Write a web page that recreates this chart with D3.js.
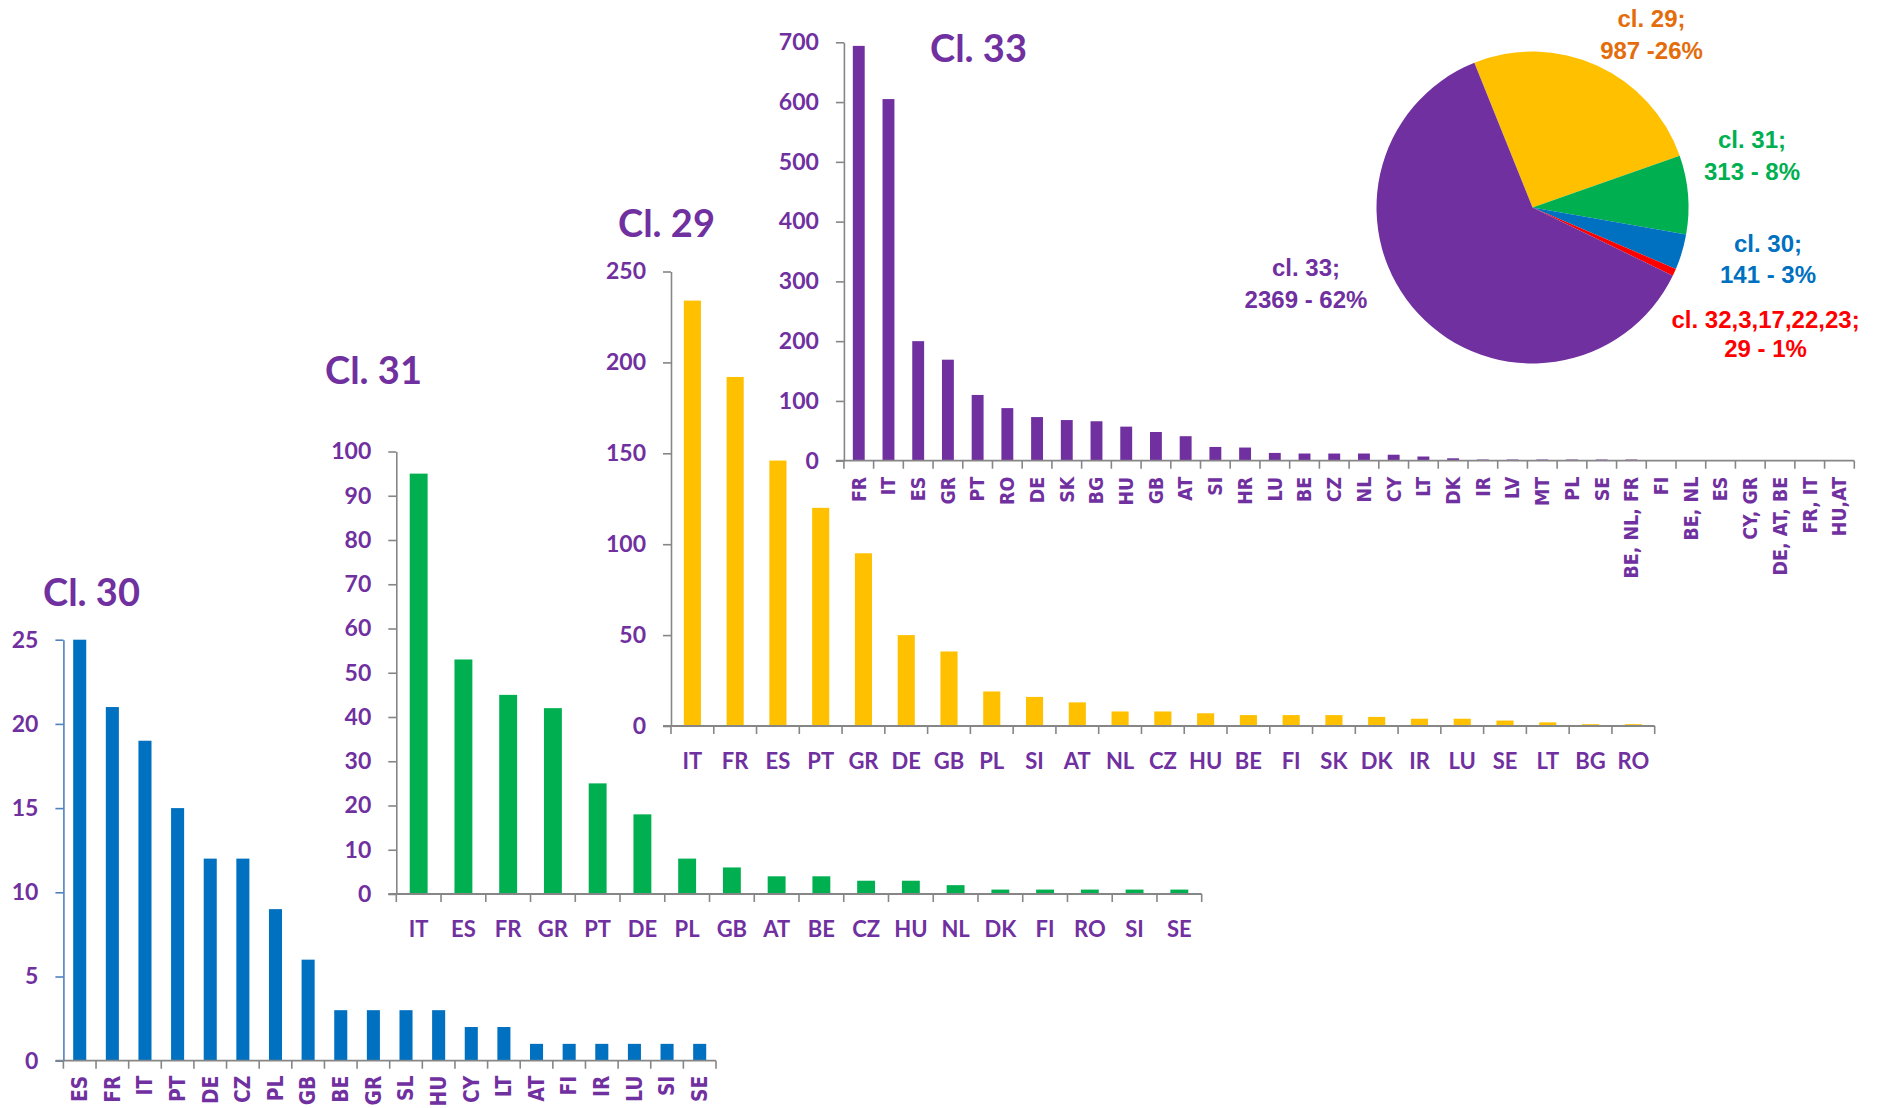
<!DOCTYPE html>
<html>
<head>
<meta charset="utf-8">
<script src="https://cdn.jsdelivr.net/npm/d3@7"></script>
<style>
  html, body { margin: 0; padding: 0; background: #ffffff; }
  svg { display: block; }
</style>
</head>
<body>
<svg id="chart" width="1877" height="1108"></svg>
<script>
// ---------------- DATA ----------------
const cl30Categories = ["ES","FR","IT","PT","DE","CZ","PL","GB","BE","GR","SL","HU","CY","LT","AT","FI","IR","LU","SI","SE"];
const cl30Values     = [25,21,19,15,12,12,9,6,3,3,3,3,2,2,1,1,1,1,1,1];
const cl30Ticks      = [0,5,10,15,20,25];

const cl31Categories = ["IT","ES","FR","GR","PT","DE","PL","GB","AT","BE","CZ","HU","NL","DK","FI","RO","SI","SE"];
const cl31Values     = [95,53,45,42,25,18,8,6,4,4,3,3,2,1,1,1,1,1];
const cl31Ticks      = [0,10,20,30,40,50,60,70,80,90,100];

const cl29Categories = ["IT","FR","ES","PT","GR","DE","GB","PL","SI","AT","NL","CZ","HU","BE","FI","SK","DK","IR","LU","SE","LT","BG","RO"];
const cl29Values     = [234,192,146,120,95,50,41,19,16,13,8,8,7,6,6,6,5,4,4,3,2,1,1];
const cl29Ticks      = [0,50,100,150,200,250];

const cl33Categories = ["FR","IT","ES","GR","PT","RO","DE","SK","BG","HU","GB","AT","SI","HR","LU","BE","CZ","NL","CY","LT","DK","IR","LV","MT","PL","SE","BE, NL, FR","FI","BE, NL","ES","CY, GR","DE, AT, BE","FR, IT","HU,AT"];
const cl33Values     = [694,605,200,169,110,88,73,68,66,57,48,41,23,22,13,12,12,12,10,7,4,2,2,2,2,2,2,0,0,0,0,0,0,0];
const cl33Ticks      = [0,100,200,300,400,500,600,700];

const pieNames   = ["cl. 29;","cl. 31;","cl. 30;","cl. 32,3,17,22,23;","cl. 33;"];
const pieValues  = [987,313,141,29,2369];
const pieShares  = ["987 -26%","313 - 8%","141 - 3%","29 - 1%","2369 - 62%"];

// ---------------- STYLE ----------------
const PURPLE = "#7030A0", YELLOW = "#FFC000", GREEN = "#00B050", BLUE = "#0070C0", RED = "#FF0000", ORANGE = "#E46C0A";
const AXIS_GRAY = "#868686";
const FONT = "Lato, 'Open Sans', sans-serif";
const VFONT = "'DejaVu Sans', Verdana, sans-serif";
const PFONT = "'Liberation Sans', Arial, sans-serif";

const svg = d3.select("#chart");
svg.append("rect").attr("width",1877).attr("height",1108).attr("fill","#ffffff");

function barChart(cfg) {
  const g = svg.append("g");
  const x = d3.scaleBand().domain(cfg.categories.map((c,i)=>i))
    .range([cfg.x0, cfg.x1]).paddingInner(0.6).paddingOuter(0.3);
  const y = d3.scaleLinear().domain([0, d3.max(cfg.ticks)]).range([cfg.y0, cfg.yTop]);
  const step = x.step();

  // bars
  g.selectAll("rect.bar").data(cfg.values).join("rect")
    .attr("class","bar")
    .attr("x",(d,i)=>x(i))
    .attr("width",x.bandwidth())
    .attr("y",d=>y(d))
    .attr("height",d=>y(0)-y(d))
    .attr("fill",cfg.color);

  // y axis
  const ya = g.append("g").attr("transform",`translate(${cfg.x0},0)`)
    .call(d3.axisLeft(y).tickValues(cfg.ticks).tickSize(8).tickSizeOuter(0).tickPadding(17).tickFormat(d3.format("d")));
  ya.select(".domain").attr("stroke",cfg.yAxisColor || AXIS_GRAY).attr("stroke-width",1.6);
  ya.selectAll(".tick line").attr("stroke",cfg.yAxisColor || AXIS_GRAY).attr("stroke-width",1.6);
  ya.selectAll(".tick text").attr("fill",PURPLE).attr("font-family",FONT)
    .attr("font-weight","bold").attr("font-size",23);

  // x axis line + boundary ticks
  g.append("line").attr("x1",cfg.x0-8).attr("x2",cfg.x1).attr("y1",cfg.y0).attr("y2",cfg.y0)
    .attr("stroke",AXIS_GRAY).attr("stroke-width",1.8);
  g.selectAll("line.xt").data(d3.range(cfg.categories.length+1)).join("line")
    .attr("class","xt")
    .attr("x1",i=>cfg.x0+i*step).attr("x2",i=>cfg.x0+i*step)
    .attr("y1",cfg.y0).attr("y2",cfg.y0+8)
    .attr("stroke",AXIS_GRAY).attr("stroke-width",1.6);

  // category labels
  if (cfg.vertical) {
    g.selectAll("text.cat").data(cfg.categories).join("text")
      .attr("class","cat")
      .attr("transform",(d,i)=>`translate(${x(i)+x.bandwidth()/2},${cfg.y0+cfg.labelGap}) rotate(-90) scale(0.92,1)`)
      .attr("text-anchor","end").attr("dy","0.36em")
      .attr("fill",PURPLE).attr("font-family",VFONT).attr("font-weight","bold").attr("font-size",cfg.labelSize)
      .text(d=>d);
  } else {
    g.selectAll("text.cat").data(cfg.categories).join("text")
      .attr("class","cat")
      .attr("x",(d,i)=>x(i)+x.bandwidth()/2).attr("y",cfg.y0+43)
      .attr("text-anchor","middle")
      .attr("fill",PURPLE).attr("font-family",FONT).attr("font-weight","bold").attr("font-size",22)
      .text(d=>d);
  }

  // title
  g.append("text").attr("x",cfg.titleX).attr("y",cfg.titleY)
    .attr("fill",PURPLE).attr("font-family",FONT).attr("font-weight","bold").attr("font-size",38)
    .text(cfg.title);
}

barChart({categories:cl30Categories, values:cl30Values, ticks:cl30Ticks, color:BLUE,
  x0:63.4, x1:716, y0:1060.7, yTop:639.7, vertical:true, yAxisColor:"#4F81BD",
  labelGap:15, labelSize:20.3,
  title:"Cl. 30", titleX:43, titleY:606});

barChart({categories:cl31Categories, values:cl31Values, ticks:cl31Ticks, color:GREEN,
  x0:396.3, x1:1201.7, y0:894, yTop:451.5, vertical:false,
  title:"Cl. 31", titleX:325, titleY:384});

barChart({categories:cl29Categories, values:cl29Values, ticks:cl29Ticks, color:YELLOW,
  x0:671, x1:1654.7, y0:726, yTop:271.5, vertical:false,
  title:"Cl. 29", titleX:618, titleY:237});

barChart({categories:cl33Categories, values:cl33Values, ticks:cl33Ticks, color:PURPLE,
  x0:843.9, x1:1854.3, y0:460.7, yTop:42.3, vertical:true,
  labelGap:16, labelSize:19,
  title:"Cl. 33", titleX:930, titleY:62});

// ---------------- PIE ----------------
const pieColors = [YELLOW, GREEN, BLUE, RED, PURPLE];
const labelColors = [ORANGE, GREEN, BLUE, RED, PURPLE];
const startA = -21.9 * Math.PI / 180;
const pie = d3.pie().sort(null).startAngle(startA).endAngle(startA + 2*Math.PI);
const arc = d3.arc().innerRadius(0).outerRadius(156);
const pg = svg.append("g").attr("transform","translate(1532.5,207.5)");
pg.selectAll("path").data(pie(pieValues)).join("path")
  .attr("d",arc).attr("fill",(d,i)=>pieColors[i]);

const labelPos = [[1651.5,26.7],[1752,148.3],[1768,251.7],[1765.6,328.3],[1306,275.5]];
const lineGap = [32.6,31.7,31.6,29,32.5];
const lg = svg.append("g");
pieNames.forEach((n,i)=>{
  const t = lg.append("text").attr("text-anchor","middle")
    .attr("fill",labelColors[i]).attr("font-family",PFONT).attr("font-weight","bold").attr("font-size",24)
  t.append("tspan").attr("x",labelPos[i][0]).attr("y",labelPos[i][1]).text(n);
  t.append("tspan").attr("x",labelPos[i][0]).attr("y",labelPos[i][1]+lineGap[i]).text(pieShares[i]);
});
</script>
</body>
</html>
